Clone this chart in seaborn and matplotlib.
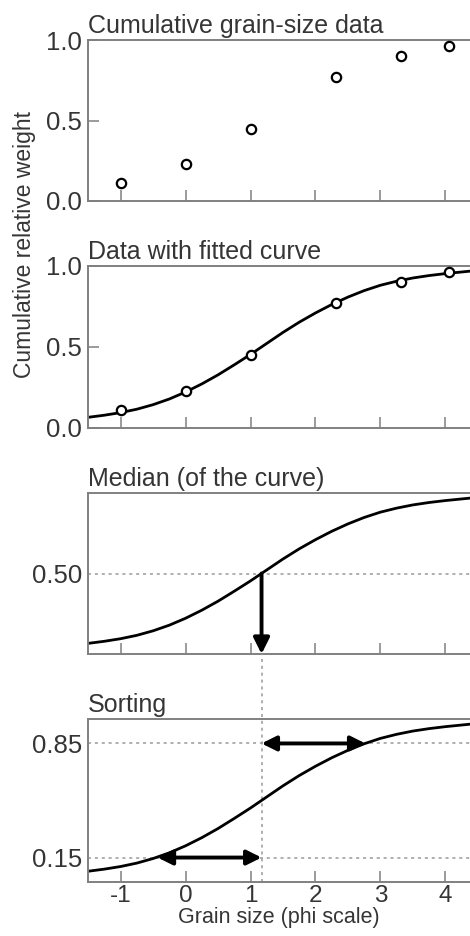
import numpy as np
import pandas as pd
import seaborn as sns
import matplotlib.pyplot as plt

# grain-size data (phi) and cumulative relative weight
phi = [-1.0, 0.0, 1.0, 2.32, 3.32, 4.05]
cum_weight = [0.11, 0.23, 0.45, 0.77, 0.90, 0.96]

# fitted curve
curve_phi = [-1.5, -1.25, -1.0, -0.75, -0.5, -0.25, 0.0, 0.25, 0.5, 0.75, 1.0, 1.25,
             1.5, 1.75, 2.0, 2.25, 2.5, 2.75, 3.0, 3.25, 3.5, 3.75, 4.0, 4.25, 4.4]
curve_cum = [0.066, 0.079, 0.095, 0.116, 0.144, 0.179, 0.222, 0.272, 0.328, 0.390, 0.454, 0.522,
             0.590, 0.653, 0.710, 0.762, 0.808, 0.848, 0.881, 0.906, 0.926, 0.941, 0.953, 0.963, 0.969]

median_phi = 1.17
phi15 = -0.43
phi85 = 2.77

titles = ["Cumulative grain-size data", "Data with fitted curve",
          "Median (of the curve)", "Sorting"]
xticks = [-1, 0, 1, 2, 3, 4]

pts = pd.DataFrame({"phi": phi, "w": cum_weight})
curve = pd.DataFrame({"phi": curve_phi, "w": curve_cum})

sns.set_style("ticks")
plt.rcParams["font.family"] = ["Liberation Sans", "DejaVu Sans"]
plt.rcParams["axes.unicode_minus"] = False
txt = "#353535"
spine_c = "#808080"
fs = 18.5

fig = plt.figure(figsize=(4.7, 9.36), dpi=100)
left, width = 87.5 / 470, 1 - 87.5 / 470
panels = [(40, 201), (266, 428), (493, 654), (719, 882)]
axs = []
for top, bot in panels:
    axs.append(fig.add_axes([left, 1 - bot / 936, width, (bot - top) / 936]))

for i, ax in enumerate(axs):
    ax.set_xlim(-1.51, 4.38)
    ax.set_ylim(0, 1)
    for s in ["left", "top", "bottom"]:
        ax.spines[s].set_color(spine_c)
        ax.spines[s].set_linewidth(1.4)
    ax.spines["right"].set_visible(False)
    ax.set_xticks(xticks)
    ax.tick_params(axis="x", direction="in", length=8, width=1.1, color=spine_c,
                   labelsize=17.5, labelcolor=txt, pad=2)
    ax.tick_params(axis="y", direction="in", length=8, width=1.1, color=spine_c,
                   labelsize=fs, labelcolor=txt, pad=4)
    if i < 3:
        ax.set_xticklabels([])
    ax.set_title(titles[i], loc="left", fontsize=18, color=txt, pad=5)

# panel 1: data only
sns.scatterplot(data=pts, x="phi", y="w", ax=axs[0], s=45, marker="o",
                facecolor="white", edgecolor="black", linewidth=1.6, zorder=3)
# panel 2: data + curve
sns.lineplot(data=curve, x="phi", y="w", ax=axs[1], color="black", lw=2, zorder=2)
sns.scatterplot(data=pts, x="phi", y="w", ax=axs[1], s=45, marker="o",
                facecolor="white", edgecolor="black", linewidth=1.6, zorder=3)
# panels 3, 4: curve
for ax in axs[2:]:
    sns.lineplot(data=curve, x="phi", y="w", ax=ax, color="black", lw=2, zorder=2)

for ax in axs:
    ax.set_xlabel("")
    ax.set_ylabel("")

for ax in axs[:2]:
    ax.set_yticks([0, 0.5, 1])
    ax.set_yticklabels(["0.0", "0.5", "1.0"])

dot = dict(color="#9a9a9a", lw=1.1, ls=(0, (2, 2.5)), zorder=1)

# median panel
ax = axs[2]
ax.set_yticks([0.5])
ax.set_yticklabels(["0.50"])
ax.tick_params(axis="y", length=0)
ax.axhline(0.5, **dot)
ax.annotate("", xy=(median_phi, 0.0), xytext=(median_phi, 0.5),
            arrowprops=dict(arrowstyle="-|>", color="black", lw=2.8,
                            mutation_scale=24, shrinkA=0, shrinkB=0))

# sorting panel
ax = axs[3]
ax.set_yticks([0.15, 0.85])
ax.set_yticklabels(["0.15", "0.85"])
ax.tick_params(axis="y", length=0)
ax.axhline(0.85, **dot)
ax.axhline(0.15, **dot)
gap = (719 - 654) / 163
ax.axvline(median_phi, ymin=0, ymax=1 + gap, clip_on=False, **dot)
arr = dict(arrowstyle="<|-|>", color="black", lw=2.8, mutation_scale=22,
           shrinkA=0, shrinkB=0)
ax.annotate("", xy=(phi85, 0.85), xytext=(median_phi, 0.85), arrowprops=arr)
ax.annotate("", xy=(phi15, 0.15), xytext=(median_phi, 0.15), arrowprops=arr)
ax.set_xlabel("Grain size (phi scale)", fontsize=15.5, color=txt, labelpad=0)

fig.text(25 / 470, 1 - 245 / 936, "Cumulative relative weight", rotation=90,
         ha="center", va="center", fontsize=16.5, color=txt)

fig.savefig("out.png", dpi=100)
